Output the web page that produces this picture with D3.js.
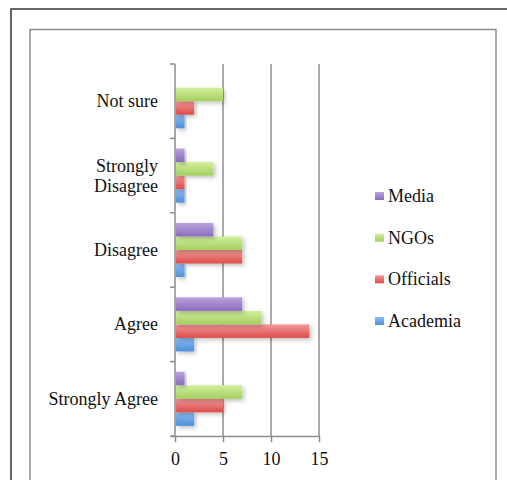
<!DOCTYPE html>
<html>
<head>
<meta charset="utf-8">
<script src="https://cdn.jsdelivr.net/npm/d3@7"></script>
<style>
  body { margin: 0; background: #fff; }
  svg { display: block; }
</style>
</head>
<body>
<script>
// categories bottom -> top, as in the picture
const categories = ['Strongly Agree', 'Agree', 'Disagree', 'Strongly Disagree', 'Not sure'];
const categoryLines = [['Strongly Agree'], ['Agree'], ['Disagree'], ['Strongly', 'Disagree'], ['Not sure']];
const seriesNames = ['Academia', 'Officials', 'NGOs', 'Media'];
const academia = [2, 2, 1, 1, 1];
const officials = [5, 14, 7, 1, 2];
const ngos = [7, 9, 7, 4, 5];
const media = [1, 7, 4, 1, 0];
const xTicks = [0, 5, 10, 15];

const colors = {
    Academia: ['#8dbcf0', '#4f8fda'],
    Officials: ['#f29a98', '#dc4c4a'],
    NGOs: ['#d3ef9e', '#a3cf5e'],
    Media: ['#b9a2dc', '#8a6bbd']
};

const svgWidth = 507;
const svgHeight = 480;
const plot = {left: 175, right: 319, top: 64, bottom: 436};
const fontSize = 18;

window.onload = main;

function main() {
    const values = {Academia: academia, Officials: officials, NGOs: ngos, Media: media};
    const data = categories.map((c, i) => ({
        category: c,
        lines: categoryLines[i],
        bars: seriesNames.map(s => ({series: s, value: values[s][i]}))
    }));
    render_data(data);
}

function render_data(data) {
    const svg = d3.select('body').append('svg')
        .attr('width', svgWidth)
        .attr('height', svgHeight);

    const defs = svg.append('defs');
    seriesNames.forEach(s => {
        const g = defs.append('linearGradient')
            .attr('id', 'grad-' + s)
            .attr('x1', 0).attr('y1', 0).attr('x2', 0).attr('y2', 1);
        g.append('stop').attr('offset', '0%').attr('stop-color', colors[s][0]);
        g.append('stop').attr('offset', '100%').attr('stop-color', colors[s][1]);
    });
    const shadow = defs.append('filter').attr('id', 'shadow')
        .attr('x', '-10%').attr('y', '-30%').attr('width', '130%').attr('height', '180%');
    shadow.append('feDropShadow')
        .attr('dx', 2).attr('dy', 2).attr('stdDeviation', 2)
        .attr('flood-color', '#000').attr('flood-opacity', 0.25);

    // frames
    svg.append('rect')
        .attr('x', 11).attr('y', 9).attr('width', 520).attr('height', 500)
        .attr('fill', 'none').attr('stroke', '#333').attr('stroke-width', 1.5);
    svg.append('rect')
        .attr('x', 30).attr('y', 29.5).attr('width', 466).attr('height', 480)
        .attr('fill', 'none').attr('stroke', '#8c8c8c').attr('stroke-width', 1.5);

    const scaleX = d3.scaleLinear()
        .domain([0, 15])
        .range([plot.left, plot.right]);

    const scaleY = d3.scaleBand()
        .domain(categories.slice().reverse())
        .range([plot.top, plot.bottom]);

    const scaleInner = d3.scaleBand()
        .domain(seriesNames.slice().reverse())
        .range([0, scaleY.bandwidth()])
        .paddingOuter(0.75);

    const grey = '#8c8c8c';

    // vertical gridlines
    svg.append('g').selectAll('line')
        .data(xTicks.filter(d => d > 0))
        .join('line')
        .attr('x1', d => scaleX(d)).attr('x2', d => scaleX(d))
        .attr('y1', plot.top).attr('y2', plot.bottom)
        .attr('stroke', grey).attr('stroke-width', 1.5);

    // x axis
    const xAxis = svg.append('g')
        .attr('transform', `translate(0,${plot.bottom})`)
        .call(d3.axisBottom(scaleX).tickValues(xTicks).tickSize(6).tickPadding(10).tickSizeOuter(0));
    xAxis.select('.domain').attr('stroke', grey).attr('stroke-width', 1.5)
        .attr('d', `M${plot.left - 4},0.5H${plot.right}`);
    xAxis.selectAll('.tick line').attr('stroke', grey).attr('stroke-width', 1.5);
    xAxis.selectAll('.tick text')
        .attr('font-family', 'Liberation Serif')
        .attr('font-size', fontSize)
        .attr('fill', '#111');

    // y axis line and boundary ticks
    const boundaries = categories.map(c => scaleY(c)).concat([plot.bottom]);
    svg.append('line')
        .attr('x1', plot.left).attr('x2', plot.left)
        .attr('y1', plot.top).attr('y2', plot.bottom)
        .attr('stroke', grey).attr('stroke-width', 1.5);
    svg.append('g').selectAll('line')
        .data(boundaries)
        .join('line')
        .attr('x1', plot.left - 5).attr('x2', plot.left)
        .attr('y1', d => d).attr('y2', d => d)
        .attr('stroke', grey).attr('stroke-width', 1.5);

    // category labels
    svg.append('g').selectAll('text')
        .data(data)
        .join('text')
        .attr('text-anchor', 'end')
        .attr('font-family', 'Liberation Serif')
        .attr('font-size', fontSize)
        .attr('fill', '#111')
        .each(function (d) {
            const cy = scaleY(d.category) + scaleY.bandwidth() / 2;
            const n = d.lines.length;
            d3.select(this).selectAll('tspan')
                .data(d.lines)
                .join('tspan')
                .attr('x', 158)
                .attr('y', (l, i) => cy + 6 + (i - (n - 1) / 2) * 20)
                .text(l => l);
        });

    // bars
    const groups = svg.append('g').selectAll('g')
        .data(data)
        .join('g')
        .attr('transform', d => `translate(0,${scaleY(d.category)})`);
    groups.selectAll('rect')
        .data(d => d.bars.filter(b => b.value > 0))
        .join('rect')
        .attr('x', scaleX(0) + 1)
        .attr('y', b => scaleInner(b.series))
        .attr('width', b => scaleX(b.value) - scaleX(0) - 1)
        .attr('height', scaleInner.bandwidth())
        .attr('fill', b => `url(#grad-${b.series})`)
        .attr('filter', 'url(#shadow)');

    // legend, Media on top
    const legendY = d3.scalePoint()
        .domain(seriesNames.slice().reverse())
        .range([197, 322]);
    const legend = svg.append('g').selectAll('g')
        .data(seriesNames.slice().reverse())
        .join('g')
        .attr('transform', s => `translate(375,${legendY(s)})`);
    legend.append('rect')
        .attr('x', 0).attr('y', -5).attr('width', 9).attr('height', 8)
        .attr('fill', s => `url(#grad-${s})`);
    legend.append('text')
        .attr('x', 13).attr('y', 5)
        .attr('font-family', 'Liberation Serif')
        .attr('font-size', fontSize)
        .attr('fill', '#111')
        .text(s => s);
}
</script>
</body>
</html>
